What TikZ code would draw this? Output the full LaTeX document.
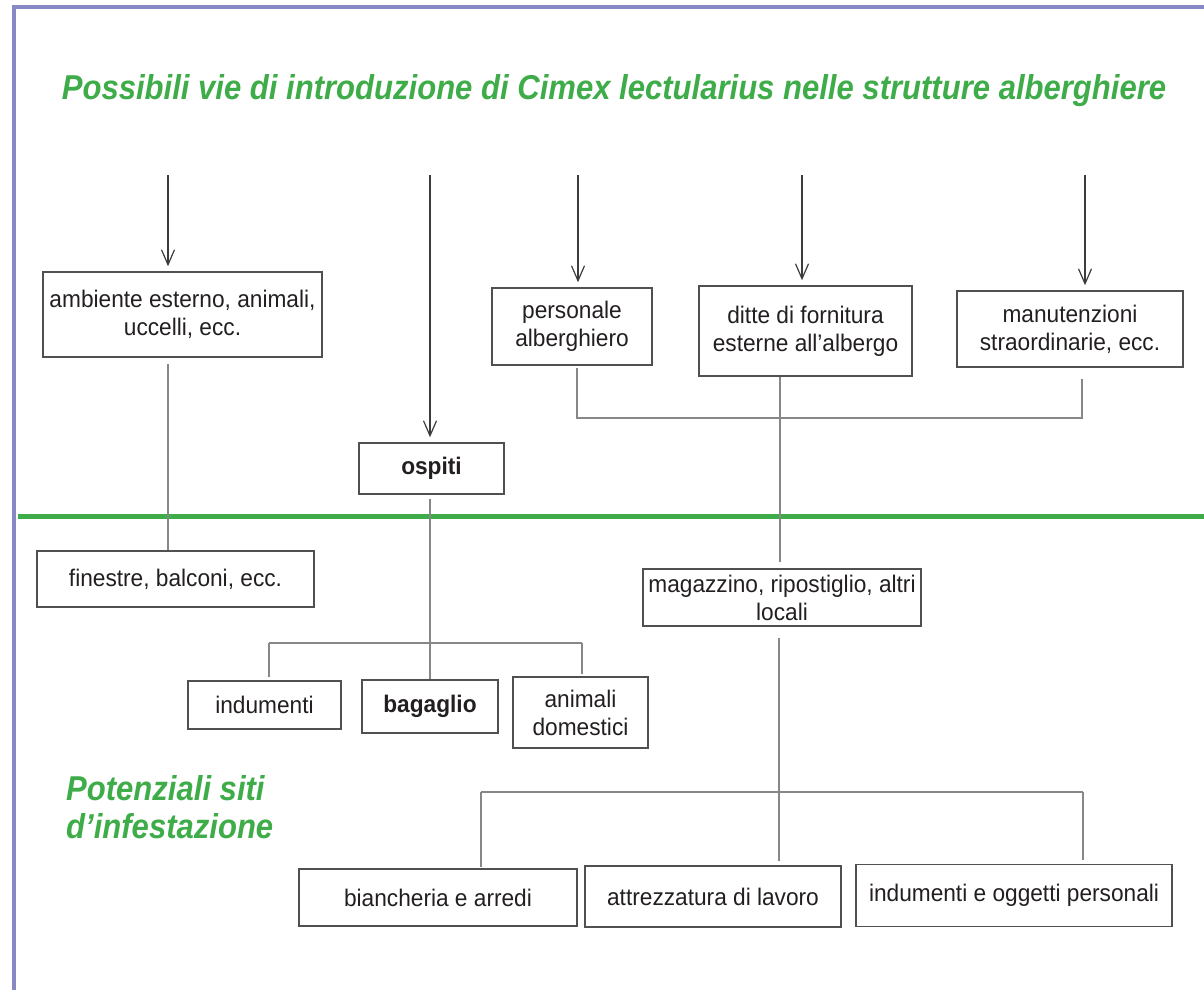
\documentclass[tikz,border=0pt]{standalone}
\usepackage{fontspec}
\setmainfont{Liberation Sans}[FakeStretch=0.945]
\newfontfamily\titlefont{Liberation Sans}[FakeStretch=0.9]
\usetikzlibrary{arrows.meta}
\definecolor{bordercol}{RGB}{136,136,196}
\definecolor{greencol}{RGB}{62,172,72}
\definecolor{txtcol}{RGB}{35,31,32}
\definecolor{boxcol}{RGB}{80,80,80}
\definecolor{conncol}{RGB}{135,135,135}
\definecolor{arrcol}{RGB}{60,60,60}
\tikzset{
  box/.style={draw=boxcol, line width=1.5pt, inner sep=0pt, align=center, text=txtcol,
    font=\fontsize{24}{28}\selectfont},
  conn/.style={draw=conncol, line width=1.2pt},
  arr/.style={draw=arrcol, line width=1.2pt, -{Straight Barb[length=15pt,width=13pt,line width=1.2pt]}, shorten >=5pt},
  heading/.style={text=greencol, inner sep=0pt, font=\titlefont\fontsize{34.5}{38}\selectfont\bfseries\itshape}
}
\begin{document}
\begin{tikzpicture}[x=1pt,y=-1pt]
\useasboundingbox (0,0) rectangle (1204,990);
% frame
\draw[bordercol, line width=4pt] (13.5,990) -- (13.5,7) -- (1204,7);
\draw[greencol, line width=5pt] (18,516) -- (1204,516);
% headings
\node[heading, anchor=base] (title) at (614,99) {Possibili vie di introduzione di Cimex lectularius nelle strutture alberghiere};
\node[heading, anchor=north west, align=left] (siti) at (66,775) {Potenziali siti\\d’infestazione};
% boxes
\node[box, minimum width=279, minimum height=85] (amb) at (182.5,314.5) {ambiente esterno, animali,\\uccelli, ecc.};
\node[box, minimum width=160, minimum height=77] (pers) at (572,326.5) {personale\\alberghiero};
\node[box, minimum width=213, minimum height=90] (ditte) at (805.5,331) {ditte di fornitura\\esterne all’albergo};
\node[box, minimum width=226, minimum height=76] (manut) at (1070,329) {manutenzioni\\straordinarie, ecc.};
\node[box, minimum width=145, minimum height=51] (osp) at (431.5,468.5) {\bfseries ospiti};
\node[box, minimum width=277, minimum height=56] (fin) at (175.5,579) {finestre, balconi, ecc.};
\node[box, minimum width=278, minimum height=57] (mag) at (782,597.5) {magazzino, ripostiglio, altri\\locali};
\node[box, minimum width=153, minimum height=48] (ind) at (264.5,705) {indumenti};
\node[box, minimum width=136, minimum height=53] (bag) at (430,706.5) {\bfseries bagaglio};
\node[box, minimum width=135, minimum height=71] (anim) at (580.5,712.5) {animali\\domestici};
\node[box, minimum width=278, minimum height=57] (bian) at (438,897.5) {biancheria e arredi};
\node[box, minimum width=256, minimum height=61] (attr) at (713,896.5) {attrezzatura di lavoro};
\node[box, minimum width=316, minimum height=62] (indog) at (1014,895.5) {indumenti e oggetti personali};
% arrow starts
\coordinate (s1) at (168,175);
\coordinate (s2) at (430,175);
\coordinate (s3) at (578,175);
\coordinate (s4) at (802,175);
\coordinate (s5) at (1085,175);
\draw[arr] (s1) -- (s1 |- amb.north);
\draw[arr] (s2) -- (s2 |- osp.north);
\draw[arr] (s3) -- (s3 |- pers.north);
\draw[arr] (s4) -- (s4 |- ditte.north);
\draw[arr] (s5) -- (s5 |- manut.north);
% connectors
\draw[conn, shorten <=6pt] (amb.south -| s1) -- (fin.north -| s1);
\draw[conn, shorten <=4pt] (osp.south -| s2) -- (bag.north -| s2);
\coordinate (pa) at (577,418);
\coordinate (pb) at (1082,418);
\draw[conn] ([yshift=-2pt]pers.south -| pa) -- (pa) -- (pb) -- ([yshift=-11pt]manut.south -| pb);
\coordinate (dx) at (780,0);
\draw[conn, shorten >=6pt] (ditte.south -| dx) -- (mag.north -| dx);
\coordinate (ga) at (269,643);
\coordinate (gb) at (582,643);
\draw[conn] (ga) -- (gb);
\draw[conn, shorten >=3pt] (ga) -- (ga |- ind.north);
\draw[conn, shorten >=2pt] (gb) -- (gb |- anim.north);
\coordinate (ma) at (481,792);
\coordinate (mb) at (1083,792);
\coordinate (mx) at (779,0);
\draw[conn] (ma) -- (mb);
\draw[conn, shorten <=11pt, shorten >=4pt] (mag.south -| mx) -- (attr.north -| mx);
\draw[conn, shorten >=1pt] (ma) -- (ma |- bian.north);
\draw[conn, shorten >=4pt] (mb) -- (mb |- indog.north);
\end{tikzpicture}
\end{document}
